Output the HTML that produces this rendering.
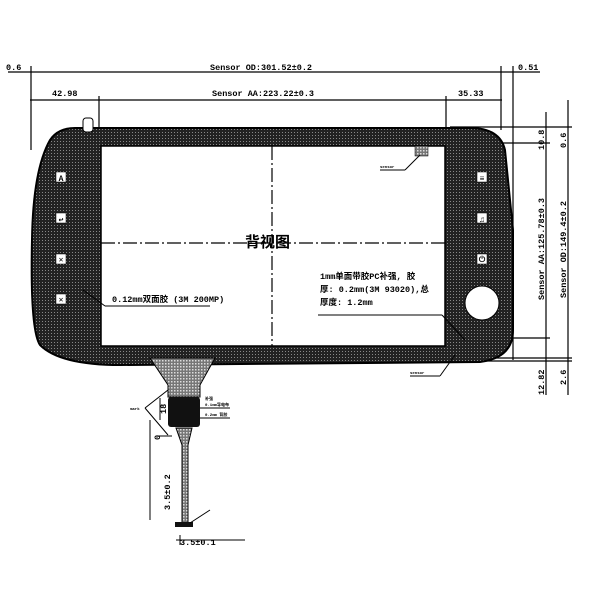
<!DOCTYPE html><html><head><style>body{margin:0;background:#fff}svg{display:block}text{font-family:"Liberation Mono","Noto Sans CJK SC",monospace;font-weight:bold;fill:#000}</style></head><body>
<svg width="600" height="600" viewBox="0 0 600 600" xmlns="http://www.w3.org/2000/svg">
<defs><pattern id="d" width="3" height="3" patternUnits="userSpaceOnUse"><rect width="3" height="3" fill="#222"/><rect width="1" height="1" fill="#888"/></pattern>
<pattern id="l" width="3" height="3" patternUnits="userSpaceOnUse"><rect width="3" height="3" fill="#777"/><rect width="1.5" height="1.5" fill="#ddd"/></pattern></defs>
<g stroke="#000" stroke-width="1.2" fill="none">
<line x1="8" y1="72" x2="540" y2="72"/><line x1="30" y1="100" x2="502" y2="100"/>
<line x1="31" y1="66" x2="31" y2="150"/><line x1="501" y1="66" x2="501" y2="130"/><line x1="513" y1="66" x2="513" y2="360"/>
<line x1="99" y1="96" x2="99" y2="140"/><line x1="446" y1="96" x2="446" y2="140"/>
<line x1="546" y1="112" x2="546" y2="395"/><line x1="568" y1="100" x2="568" y2="395"/>
<line x1="450" y1="127" x2="572" y2="127"/><line x1="450" y1="143" x2="550" y2="143"/><line x1="450" y1="338" x2="550" y2="338"/><line x1="450" y1="358" x2="572" y2="358"/><line x1="450" y1="361" x2="572" y2="361"/>
</g>
<path d="M75 128 H470 Q500 128 505 150 L513 230 L513 330 Q513 358 480 362 L120 365 Q60 365 40 345 Q30 330 32 240 Q33 170 50 140 Q58 128 75 128Z" fill="url(#d)" stroke="#000" stroke-width="2"/>
<rect x="83" y="118" width="10" height="14" rx="3" fill="#fff" stroke="#000"/>
<rect x="101" y="146" width="344" height="200" fill="#fff" stroke="#000" stroke-width="1.5"/>
<rect x="415" y="146" width="13" height="10" fill="url(#l)" stroke="#000" stroke-width=".5"/>
<g stroke="#000" stroke-dasharray="14,3,2,3" stroke-width="1.2"><line x1="101" y1="243" x2="445" y2="243"/><line x1="272" y1="146" x2="272" y2="346"/></g>
<circle cx="482" cy="303" r="17" fill="#fff" stroke="#000"/>
<g fill="#fff" stroke="#000" stroke-width=".5"><rect x="56" y="172" width="10" height="10"/><rect x="56" y="213" width="10" height="10"/><rect x="56" y="254" width="10" height="10"/><rect x="56" y="294" width="10" height="10"/><rect x="477" y="172" width="10" height="10"/><rect x="477" y="213" width="10" height="10"/><rect x="477" y="254" width="10" height="10"/></g>
<g font-size="8" text-anchor="middle"><text x="61" y="181">A</text><text x="61" y="222">↩</text><text x="61" y="262">✕</text><text x="61" y="302">✕</text><text x="482" y="181">≡</text><text x="482" y="222">♫</text><text x="482" y="262">⏻</text></g>
<path d="M150 358 H215 L200 385 V397 H168 V385Z" fill="url(#l)" stroke="#000"/>
<rect x="168" y="397" width="32" height="30" rx="3" fill="#111"/>
<path d="M176 428 H192 L188 445 V525 H182 V445Z" fill="url(#l)" stroke="#000"/>
<rect x="175" y="522" width="18" height="5" fill="#111"/>
<g stroke="#000" stroke-width="1" fill="none">
<line x1="83" y1="290" x2="105" y2="306"/><line x1="105" y1="306" x2="210" y2="306"/>
<line x1="318" y1="315" x2="442" y2="315"/><line x1="442" y1="315" x2="465" y2="340"/>
<line x1="380" y1="170" x2="405" y2="170"/><line x1="405" y1="170" x2="420" y2="155"/>
<line x1="410" y1="376" x2="440" y2="376"/><line x1="440" y1="376" x2="455" y2="355"/>
<path d="M145 408 L168 390 M145 408 L168 435 M160 398 V420 M158 436 H172 M200 408 H230 M200 418 H230 M190 523 L210 510 M180 535 V545 M176 540 H245 M150 420 V520"/>
</g>
<g font-size="8.5"><text x="6" y="70">0.6</text><text x="210" y="70">Sensor OD:301.52±0.2</text><text x="518" y="70">0.51</text>
<text x="52" y="96">42.98</text><text x="212" y="96">Sensor AA:223.22±0.3</text><text x="458" y="96">35.33</text>
<text x="112" y="302">0.12mm双面胶 (3M 200MP)</text>
<text x="320" y="279">1mm单面带胶PC补强, 胶</text><text x="320" y="292">厚: 0.2mm(3M 93020),总</text><text x="320" y="305">厚度: 1.2mm</text>
<text x="180" y="545">3.5±0.1</text></g>
<text x="245" y="247" font-size="15">背视图</text>
<g font-size="4"><text x="380" y="168">sensor</text><text x="410" y="374">sensor</text><text x="205" y="400">补强</text><text x="205" y="406">0.1mm导电布</text><text x="205" y="416">0.2mm 背胶</text><text x="130" y="410">mark</text></g>
<g font-size="8.5"><text transform="translate(544,150) rotate(-90)">10.8</text><text transform="translate(566,148) rotate(-90)">0.6</text>
<text transform="translate(544,300) rotate(-90)">Sensor AA:125.78±0.3</text><text transform="translate(566,298) rotate(-90)">Sensor OD:149.4±0.2</text>
<text transform="translate(544,395) rotate(-90)">12.82</text><text transform="translate(566,385) rotate(-90)">2.6</text>
<text transform="translate(166,414) rotate(-90)">18</text><text transform="translate(160,440) rotate(-90)">0</text><text transform="translate(170,510) rotate(-90)">3.5±0.2</text></g>
</svg></body></html>
